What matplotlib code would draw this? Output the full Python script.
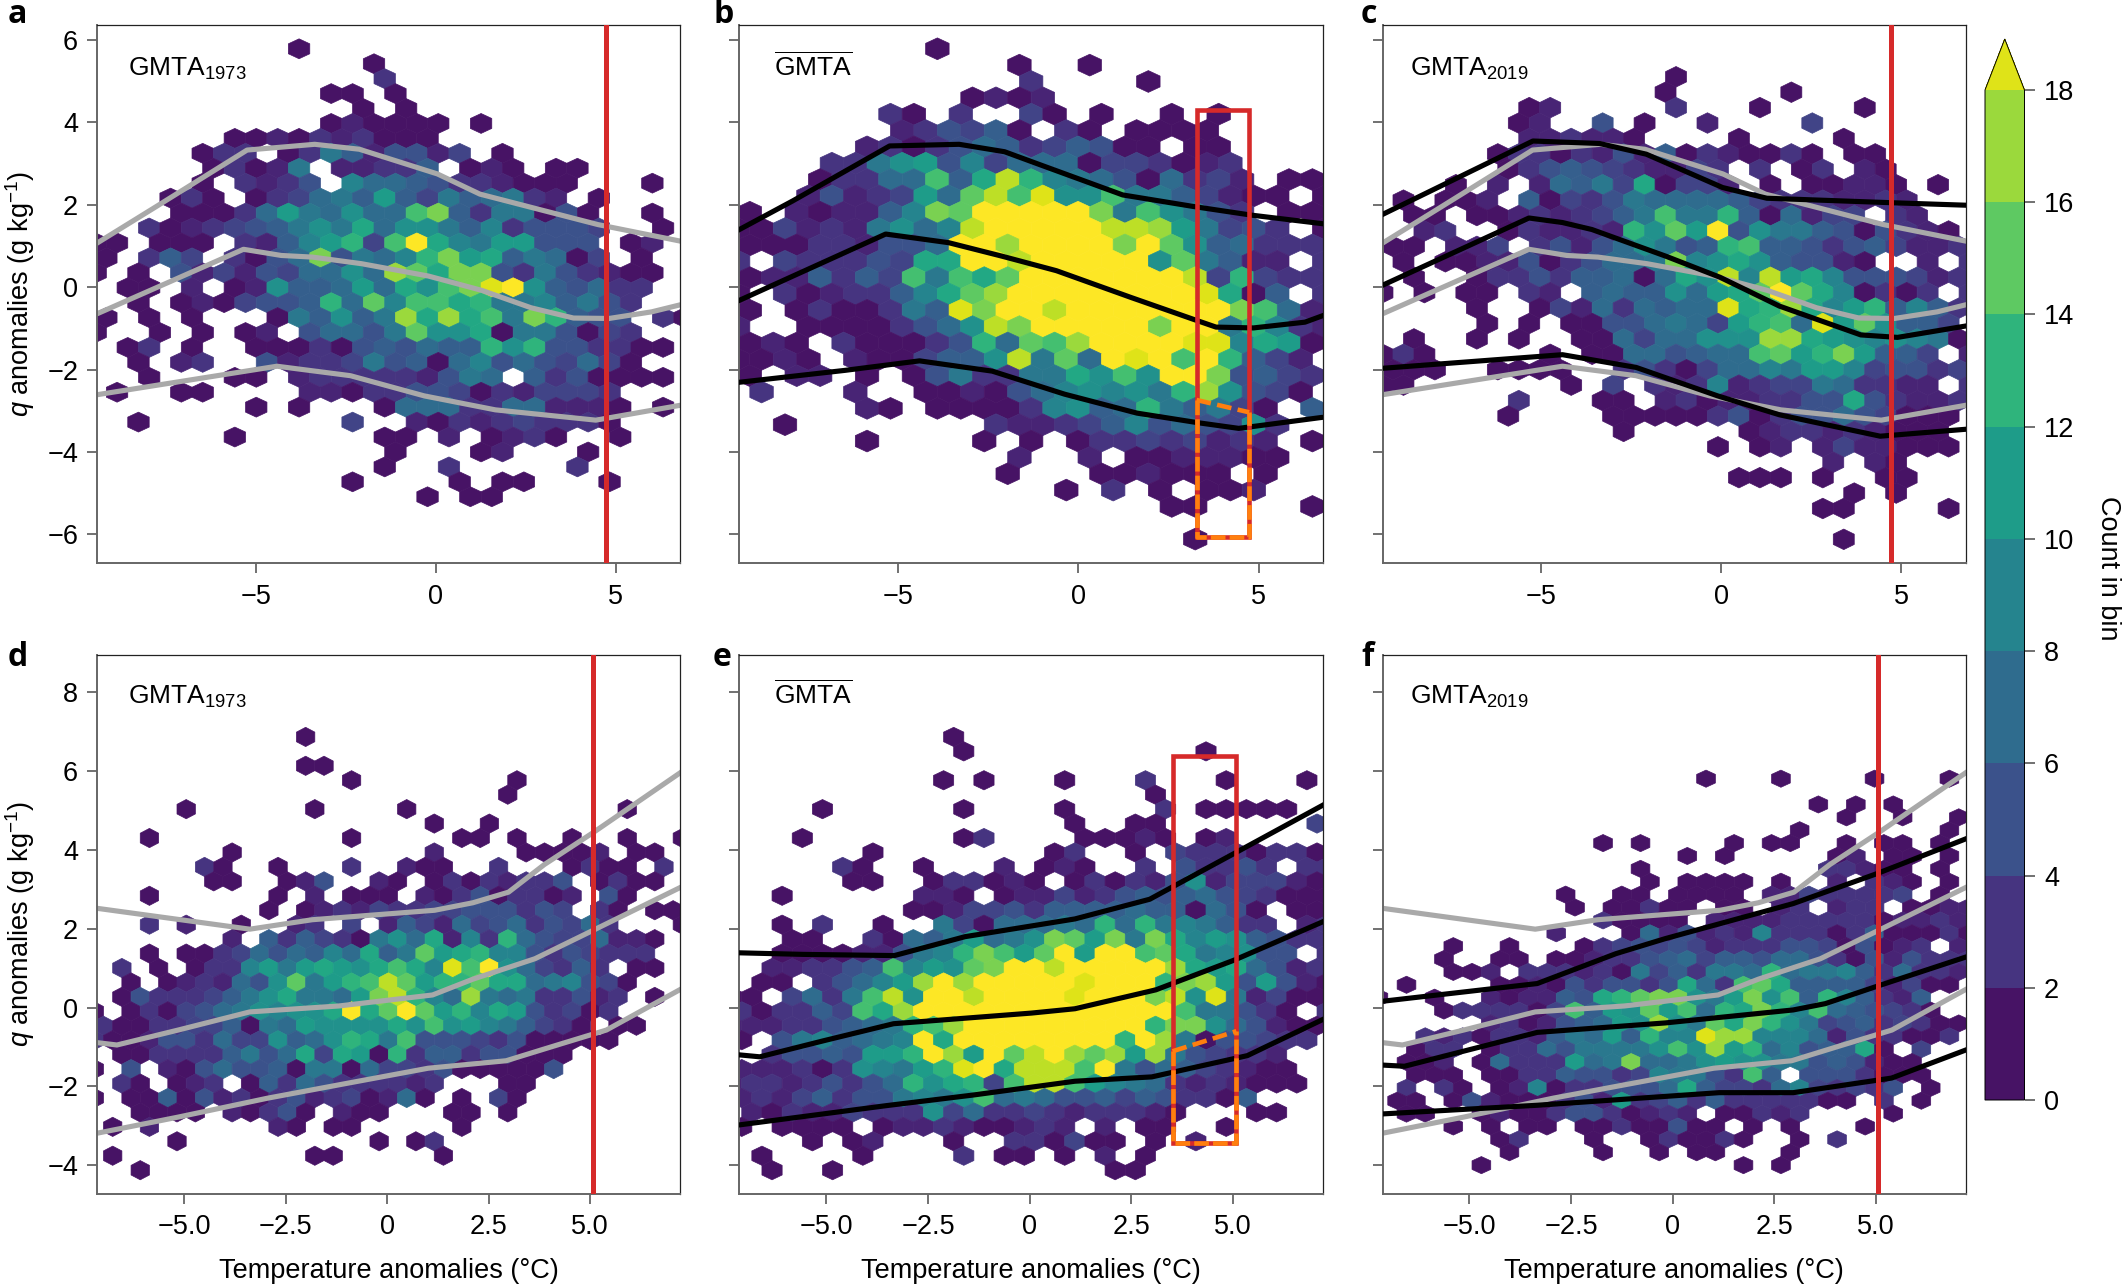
import numpy as np
import matplotlib; matplotlib.use("Agg"); import matplotlib.pyplot as plt
from matplotlib.collections import PolyCollection
from matplotlib.colors import BoundaryNorm, ListedColormap, Normalize
from matplotlib.cm import ScalarMappable

plt.rcParams['font.family'] = ['Liberation Sans', 'DejaVu Sans']
plt.rcParams['mathtext.fontset'] = 'custom'
plt.rcParams['mathtext.rm'] = 'Liberation Sans'
plt.rcParams['mathtext.it'] = 'Liberation Sans:italic'
plt.rcParams['mathtext.bf'] = 'Liberation Sans:bold'

# ============================================================
# DATA: hex bin counts, one string per row, top row first
# '.' = empty, 1-9 then a=10 ... k=20 (20 and above saturate)
# ============================================================
HEX_A = [
    ".........1", ".............1", ".............3", "...........11.1", "............1.1",
    "...........121111.1", "......1121323111", ".....133.138625524.1", ".....13128.22336.121.11",
    ".....1.3235.97765332111...1", "...131.134786b64867832.1", "....11137b87a77eg6388151..1",
    "..31234568a8c7aa86935554..1", "11.111.3269bd4ekc98bb555.12", "1.364.3157g5879dgbc68714.1",
    "1.1.52425477a7hfcgg53853211", ".11.2.12a667b7caegjka65733", "..1.1214556d7f9eecd8896853",
    "1.1.1...186a68hchce8gd655.31", "1..1.1.12.57758faac1885143", ".13.1..11131565766dad553311",
    "..1.23..523348561795754741", "..1...11.2333332587.6351111", ".1..11....221335541324443",
    ".......1.1...177733772221.1", "..1.........4..2132343331", "......1......11.2.1231..1",
    "..............1...12...1", ".............1..3.....3", "............1....1.11...1",
    "...............1.11",
]
HEX_B = [
    "........1", "............1..1", "............3....1", "..........1212", "......31.3..41.1..1.1",
    ".......235461.31.1111", ".....2313576346511.11", "....338ab5947771443123", "...13377e6cid987517342.11",
    "...25234b7fiejaae8864211.1", "1.212269gfkkkkkg8ea853.11", "1142328a79ikkkkkiihb8453.1",
    "111332557kkhkkkkgkfa67333", "3.433354cckkikkkkkaf8622.3", "1226364e8ecfkkkkkkki4d433",
    "1.3123369cfhkkkkkkkkjc16.3", "1.1311386jgkkikkkkkkkge72", "2..1111357aigkkkkkgkk8d932",
    "121.311135d7fehkkkkjj9cb1", "1121.211466ai8f7kjkekd642", "1.22.1.1583388caeakkg5643",
    ".3...2..1121579a9a8dha541", ".....21.111139a67d86841.6", "..1........32234695754a3",
    ".....1....1.1.133434232.1", "............2..2.1122211", "...........1...112111.1",
    "..............1.3.1.112", "..................11....1", "", "...................1",
]
HEX_C = [
    "..............1", ".............1.....1", ".......12.....3...1....1", "......12..5.1..2....4",
    ".......223221....1....1", ".....1331325261321131.11", "......13565432243.3.13.21",
    "...1.2.27684c1442.1.11221.1", ".1.112.6143587777643332232", ".11.112323468e88d617244.32",
    "..23..132232dafbk5a886515321", "11.224.35257a856de6653564223", ".1.11225135778g9aca65521..2.3",
    ".1..1335366717cai9ibc9555423", "1.1.11.32.6766a7bcfkfc91313.3", "....1..142737677jcdhc9bd6963",
    ".....1.1.11557874bde7jbfa664", ".1..1.1..117477aaahhcba9a981", "131.....1.11775677efbdgb664.2",
    "111..1111..353147798bb945534", "11.......1.4.32392344873322.3", "......3...11.231223355c53223",
    "......1....11111351355754111", "...........1.....1233232111", "................1.12.2422111",
    ".....................2.21", ".................111.1..11", "......................1.1",
    ".....................11....1", "", "......................1",
]
HEX_D = [
    "...........1", "", "...........11", "..............1........1", "......................1",
    ".....1......1....1...........1", "..................1..1", "...1..........1.....11.1..1..1..1",
    ".......1..........2....11112.11", "......31..1...3..211..3...1311.3",
    "......11..125..21.13132335.1311", "...1......1.2.111.213513312.51",
    ".........1.123243344555354.31.11", "...3.2..1..23.4.2642745735473...1",
    ".......2.6364318a7c293d75447221", "...1.1134757697c68fbcd995354333",
    ".3.1.1339b8bcbacec9jeka74363.11", "..1.123275af8bdeifbddfcc789541",
    ".15333468ac887bgid97h87833523.1", "1.1314578a9aackcfkfbd9cb53413",
    "31133446187baaaacaeab986431.11", "3112553744a67adc8e55543511111",
    ".1133336857c4cb1d366355111", "1.5.2157556188174435111115",
    ".31.123.16375333323...11", "1.11615231352341271.1.41", "..1111.21351.211...11.1",
    ".1.2......21.11.....1", "....1..........1.13", ".1..........11.....1", "..1",
]
HEX_E = [
    "...........1", "...........1...........1", "", "..........1.1...1...3...1...1",
    ".....................1", "....1......1....1....3.11111", ".................1..11.......4",
    "...1.......13....11121.12", ".......1........13..1.43331331", ".....31..1...2.121..3.53353.33",
    "......11..133121.131325a244421", "..1......221.12242356567543111",
    ".........112445366667661751.11", "..1.3..1..84177787d7d898633.23",
    "...11..31768b78agfbg8gc9ba6533", "..111122589dgebfkbkkefc89a55.3",
    "..223356e9bafgkkikkkkkhcbc7523", ".11.3579bhkhkkkkkjkkkdghb5b521",
    "11.4738eiakkikkkkjkkkgiaj82411", "313364echkkkkkkkkkkkkke88531.3",
    "222335678dehkkkkkkkkkdgga75211", "1.5896789kckkkkkkkkdkh8155433",
    "..35565bbdkhbkfikhfhbh854332", "222313a98bdjkciiiek857643211",
    "233235357dacd4eiieb9873232111", "23246355898ae7875564653316",
    ".213224333a473343233321...11", "1.1111.1223211232.2.11..1",
    "....1.12...1..331411.1.2", ".1....1....3.11.1.2.1", "..1..1.............11",
]
HEX_F = [
    ".................1...1....1...1", "", ".......................1.1.1", ".........................1..1..1",
    "......................1.......1", "............1.1....1.11..1.11.1", "................1.1.....12.11.1",
    "..............1.........33211.1", "..............1.1111.1..2.321.1", "..........1..11.1111.22433334.1",
    "..........1.11311.11.23.233.1122", "............31111.22223333312232",
    ".........2...1725232933313611131", "....1..1...1345454233355415123.2",
    "...1..11.11233567466577531525333", "....112.3332318463887d7889637332",
    ".1....1121535535c73efc666642411", "1..1..212265cdfgga8bgae6d96326",
    "...1333314e6bafbe7dcgd9e765431", "......2312567baha8fcgda845634311",
    "..3231332687b6d99jhh99972533113", "..133.133758888aeahbd79566c1.4",
    ".112.17333b78g778abaa88565211", "..111.11336553498853e6.5553111",
    ".3.31.1291335557c64437943435.1", ".11.152111352b346363333311.3.1",
    ".11..121135531232.11323....1", "....1.1.11.11311511.1.1...1",
    "......13...1..131131..1.3", ".......1....1..1.11...1", ".....1.............1.1",
]

# quantile curves (x, y)
TOP_GREY_UP = ([-9.39, -7.76, -5.24, -3.36, -2.12, 0.05, 1.23, 2.78, 4.51, 6.79],
               [1.08, 1.96, 3.33, 3.47, 3.35, 2.75, 2.26, 1.91, 1.52, 1.12])
TOP_GREY_MID = ([-9.39, -5.34, -4.29, -3.42, -2.06, -0.2, 1.29, 2.65, 3.83, 4.82, 6.0, 6.79],
                [-0.64, 0.92, 0.77, 0.73, 0.57, 0.27, -0.08, -0.5, -0.75, -0.76, -0.6, -0.43])
TOP_GREY_LOW = ([-9.39, -4.41, -2.37, -0.32, 1.66, 4.45, 6.79],
                [-2.61, -1.92, -2.15, -2.64, -2.98, -3.23, -2.87])
B_UP = ([-9.41, -7.92, -5.24, -3.31, -2.05, -0.96, 1.23, 3.19, 4.8, 6.79],
        [1.4, 2.1, 3.43, 3.47, 3.29, 2.94, 2.24, 1.96, 1.75, 1.54])
B_MID = ([-9.41, -5.35, -3.6, -2.11, -0.61, 1.46, 3.19, 3.82, 4.86, 6.29, 6.79],
         [-0.32, 1.29, 1.08, 0.75, 0.4, -0.25, -0.78, -0.97, -0.99, -0.85, -0.69])
B_LOW = ([-9.41, -6.47, -4.41, -2.39, -0.38, 1.63, 3.3, 4.45, 6.79],
         [-2.31, -2.02, -1.79, -2.04, -2.6, -3.06, -3.29, -3.43, -3.16])
C_UP = ([-9.4, -5.23, -3.38, -2.08, 0.04, 1.27, 4.77, 6.82],
        [1.77, 3.55, 3.49, 3.23, 2.42, 2.16, 2.05, 1.99])
C_MID = ([-9.4, -5.34, -4.41, -3.59, -1.53, -0.03, 1.62, 3.88, 4.9, 6.82],
         [0.05, 1.68, 1.57, 1.4, 0.75, 0.24, -0.46, -1.16, -1.22, -0.94])
C_LOW = ([-9.4, -4.41, -2.36, -0.1, 1.62, 4.42, 6.82],
         [-1.97, -1.64, -1.95, -2.64, -3.1, -3.62, -3.45])
BOT_GREY_UP = ([-7.14, -3.38, -1.84, 1.17, 2.11, 2.99, 3.87, 5.07, 7.2],
               [2.52, 1.99, 2.23, 2.47, 2.66, 2.93, 3.63, 4.44, 5.95])
BOT_GREY_MID = ([-7.14, -6.65, -5.14, -3.38, -1.19, 1.12, 2.11, 3.64, 5.07, 7.2],
                [-0.89, -0.95, -0.57, -0.11, 0.04, 0.32, 0.72, 1.24, 1.96, 3.04])
BOT_GREY_LOW = ([-7.14, -5.14, -2.94, -0.97, 1.01, 2.93, 4.19, 5.4, 7.2],
                [-3.19, -2.78, -2.3, -1.92, -1.54, -1.35, -0.95, -0.57, 0.45])
E_UP = ([-7.15, -5.57, -3.33, -1.59, 1.11, 2.95, 5.04, 7.21],
        [1.39, 1.35, 1.32, 1.8, 2.25, 2.75, 3.92, 5.14])
E_MID = ([-7.15, -6.64, -5.06, -3.35, 0.04, 1.11, 3.1, 5.04, 7.21],
         [-1.2, -1.25, -0.84, -0.41, -0.14, -0.03, 0.45, 1.21, 2.18])
E_LOW = ([-7.15, -3.53, -1.39, 1.11, 3.0, 5.35, 7.21],
         [-2.98, -2.49, -2.22, -1.87, -1.76, -1.22, -0.3])
F_UP = ([-7.14, -3.33, -1.39, -0.18, 2.97, 5.03, 7.21],
        [0.16, 0.61, 1.37, 1.75, 2.64, 3.4, 4.28])
F_MID = ([-7.14, -6.6, -3.33, -0.18, 2.97, 3.76, 5.03, 7.21],
         [-1.46, -1.49, -0.63, -0.39, -0.06, 0.1, 0.54, 1.28])
F_LOW = ([-7.14, -3.33, 1.15, 2.97, 5.39, 7.21],
         [-2.7, -2.48, -2.16, -2.16, -1.79, -1.08])

T_THRESH_TOP = 4.73
T_THRESH_BOT = 5.06
BOX_B = (3.28, 4.74, 4.31, -6.08, -2.74, -3.04)  # x0, x1, top, bottom, dash left, dash right
BOX_E = (3.51, 5.08, 6.38, -3.43, -1.11, -0.6)

CBAR_TICKS = [0, 2, 4, 6, 8, 10, 12, 14, 16, 18]
TOP_XTICKS = [-5, 0, 5]
TOP_XLABELS = ["\u22125", "0", "5"]
TOP_YTICKS = [-6, -4, -2, 0, 2, 4, 6]
TOP_YLABELS = ["\u22126", "\u22124", "\u22122", "0", "2", "4", "6"]
BOT_XTICKS = [-5, -2.5, 0, 2.5, 5]
BOT_XLABELS = ["\u22125.0", "\u22122.5", "0", "2.5", "5.0"]
BOT_YTICKS = [-4, -2, 0, 2, 4, 6, 8]
BOT_YLABELS = ["\u22124", "\u22122", "0", "2", "4", "6", "8"]

# hex grid of each panel: x of first even column, column step, y of first row, row step,
# and the side that odd rows shift to
GRID_A = (-9.15, 0.595, 5.79, 0.3627, -1)
GRID_B = (-9.12, 0.6507, 5.79, 0.397, -1)
GRID_C = (-9.41, 0.5826, 5.11, 0.3745, 1)
GRID_D = (-6.98, 0.4523, 6.87, 0.3666, -1)
GRID_E = (-7.33, 0.4963, 6.87, 0.3666, 1)
GRID_F = (-7.01, 0.4608, 5.81, 0.327, -1)

W, H = 2122, 1286
RED, ORANGE, GREY = "#d62a2a", "#ff7f0e", "#a9a9a9"
CHARS = "0123456789abcdefghijk"
LINE_LW = 3.7
FS = 19.5

# ============================================================
# HELPERS
# ============================================================
def add_axes_px(fig, left, top, right, bottom):
    return fig.add_axes([left / W, 1 - bottom / H, (right - left) / W, (bottom - top) / H])


def draw_hexes(ax, rows, grid):
    x0, dx, y0, dy, side = grid
    R = dy / 1.5
    verts, counts = [], []
    for r, row in enumerate(rows):
        for i, ch in enumerate(row):
            if ch == ".":
                continue
            cx = x0 + i * dx + (side * dx / 2 if r % 2 else 0)
            cy = y0 - r * dy
            verts.append([(cx, cy + R), (cx + dx / 2, cy + R / 2), (cx + dx / 2, cy - R / 2),
                          (cx, cy - R), (cx - dx / 2, cy - R / 2), (cx - dx / 2, cy + R / 2)])
            counts.append(CHARS.index(ch))
    pc = PolyCollection(verts, array=np.array(counts), cmap="viridis", norm=Normalize(0, 20),
                        edgecolors="face", linewidths=0.5, zorder=1)
    ax.add_collection(pc)


def style_axes(ax, xlim, ylim, xt, xl, yt, yl, show_y):
    ax.set_xlim(*xlim); ax.set_ylim(*ylim)
    ax.set_xticks(xt); ax.set_xticklabels(xl)
    ax.set_yticks(yt); ax.set_yticklabels(yl)
    ax.tick_params(axis="x", length=7, width=1.3, color="#666666", labelsize=FS, pad=8)
    ax.tick_params(axis="y", length=7.5, width=1.3, color="#666666", labelsize=FS, pad=6, labelleft=show_y)
    for s in ["left", "bottom"]:
        ax.spines[s].set_color("#666666"); ax.spines[s].set_linewidth(1.4)
    for s in ["top", "right"]:
        ax.spines[s].set_color("#222222"); ax.spines[s].set_linewidth(0.9)


def draw_box(ax, box):
    x0, x1, top, bot, dl, dr = box
    ax.plot([x0, x0, x1, x1], [dl, top, top, dr], color=RED, lw=3.3, solid_joinstyle="miter", zorder=4)
    ax.plot([x0, x0, x1, x1], [dl, bot, bot, dr], color=RED, lw=3.3, solid_joinstyle="miter", zorder=4)
    ax.plot([x0, x0, x1, x1], [dl, bot, bot, dr], color=ORANGE, lw=3.3, ls=(0, (3.2, 0.9)), zorder=5)
    ax.plot([x0, x1], [dl, dr], color=ORANGE, lw=3.3, ls=(0, (3.2, 1.4)), zorder=5)


# ============================================================
# PANELS
# ============================================================
fig = plt.figure(figsize=(W / 100, H / 100), dpi=100)

TOP_XLIM, TOP_YLIM = (-9.41, 6.79), (-6.7, 6.38)
BOT_XLIM, BOT_YLIM = (-7.14, 7.21), (-4.72, 8.95)
COLS = [(97, 680), (739.4, 1323), (1382.5, 1965.5)]
TOP_ROW, BOT_ROW = (24.5, 563), (655, 1193.5)

GREY_TOP = [TOP_GREY_UP, TOP_GREY_MID, TOP_GREY_LOW]
GREY_BOT = [BOT_GREY_UP, BOT_GREY_MID, BOT_GREY_LOW]

panels = [
    ("a", 0, TOP_ROW, HEX_A, GRID_A, GREY_TOP, [], r"GMTA$_{1973}$", T_THRESH_TOP, None),
    ("b", 1, TOP_ROW, HEX_B, GRID_B, [], [B_UP, B_MID, B_LOW], r"$\overline{\mathrm{GMTA}}$", None, BOX_B),
    ("c", 2, TOP_ROW, HEX_C, GRID_C, GREY_TOP, [C_UP, C_MID, C_LOW], r"GMTA$_{2019}$", T_THRESH_TOP, None),
    ("d", 0, BOT_ROW, HEX_D, GRID_D, GREY_BOT, [], r"GMTA$_{1973}$", T_THRESH_BOT, None),
    ("e", 1, BOT_ROW, HEX_E, GRID_E, [], [E_UP, E_MID, E_LOW], r"$\overline{\mathrm{GMTA}}$", None, BOX_E),
    ("f", 2, BOT_ROW, HEX_F, GRID_F, GREY_BOT, [F_UP, F_MID, F_LOW], r"GMTA$_{2019}$", T_THRESH_BOT, None),
]
LETTER_X = [8, 713, 1361]
TITLE_X = [0.053, 0.06, 0.048]

for letter, col, row, hexes, grid, greys, blacks, title, thresh, box in panels:
    ax = add_axes_px(fig, COLS[col][0], row[0], COLS[col][1], row[1])
    draw_hexes(ax, hexes, grid)
    is_top = row is TOP_ROW
    if is_top:
        style_axes(ax, TOP_XLIM, TOP_YLIM, TOP_XTICKS, TOP_XLABELS, TOP_YTICKS, TOP_YLABELS, col == 0)
    else:
        style_axes(ax, BOT_XLIM, BOT_YLIM, BOT_XTICKS, BOT_XLABELS, BOT_YTICKS, BOT_YLABELS, col == 0)
    for xs, ys in greys:
        ax.plot(xs, ys, color=GREY, lw=LINE_LW, solid_joinstyle="round", zorder=2)
    for xs, ys in blacks:
        ax.plot(xs, ys, color="black", lw=LINE_LW, solid_joinstyle="round", zorder=3)
    if thresh is not None:
        ax.axvline(thresh, color=RED, lw=3.6, zorder=4)
    if box is not None:
        draw_box(ax, box)
    ax.text(TITLE_X[col], 0.904 if is_top else 0.909, title, transform=ax.transAxes, fontsize=19,
            va="baseline", ha="left", zorder=6)
    if col == 0:
        ax.set_ylabel(r"$\mathit{q}$ anomalies (g kg$^{-1}$)", fontsize=FS, va="center")
        ax.yaxis.set_label_coords(-0.132, 0.5)
    if not is_top:
        ax.set_xlabel("Temperature anomalies (\u00b0C)", fontsize=FS, va="center")
        ax.xaxis.set_label_coords(0.5, -0.144)
    base = 23 if is_top else 665.5
    fig.text(LETTER_X[col] / W, 1 - base / H, letter, fontsize=23, fontweight="bold",
             family="Open Sans", va="baseline", ha="left")

# ============================================================
# COLOUR BAR
# ============================================================
cax = add_axes_px(fig, 1985, 39, 2024.5, 1100)
band_cols = [plt.cm.viridis((t + 1) / 20) for t in CBAR_TICKS[:-1]]
cmap = ListedColormap(band_cols)
cmap.set_over(plt.cm.viridis(0.95))
norm = BoundaryNorm(CBAR_TICKS, cmap.N)
cb = fig.colorbar(ScalarMappable(norm=norm, cmap=cmap), cax=cax, extend="max",
                  extendfrac=0.0505, ticks=CBAR_TICKS, spacing="uniform", drawedges=False)
cb.outline.set_linewidth(0.7)
cb.ax.tick_params(length=7, width=1.3, color="#666666", labelsize=FS, pad=7)
fig.text(2108 / W, 1 - 568 / H, "Count in bin", rotation=270, fontsize=FS, va="center", ha="center")

plt.savefig("out.png", dpi=100)
plt.close()
